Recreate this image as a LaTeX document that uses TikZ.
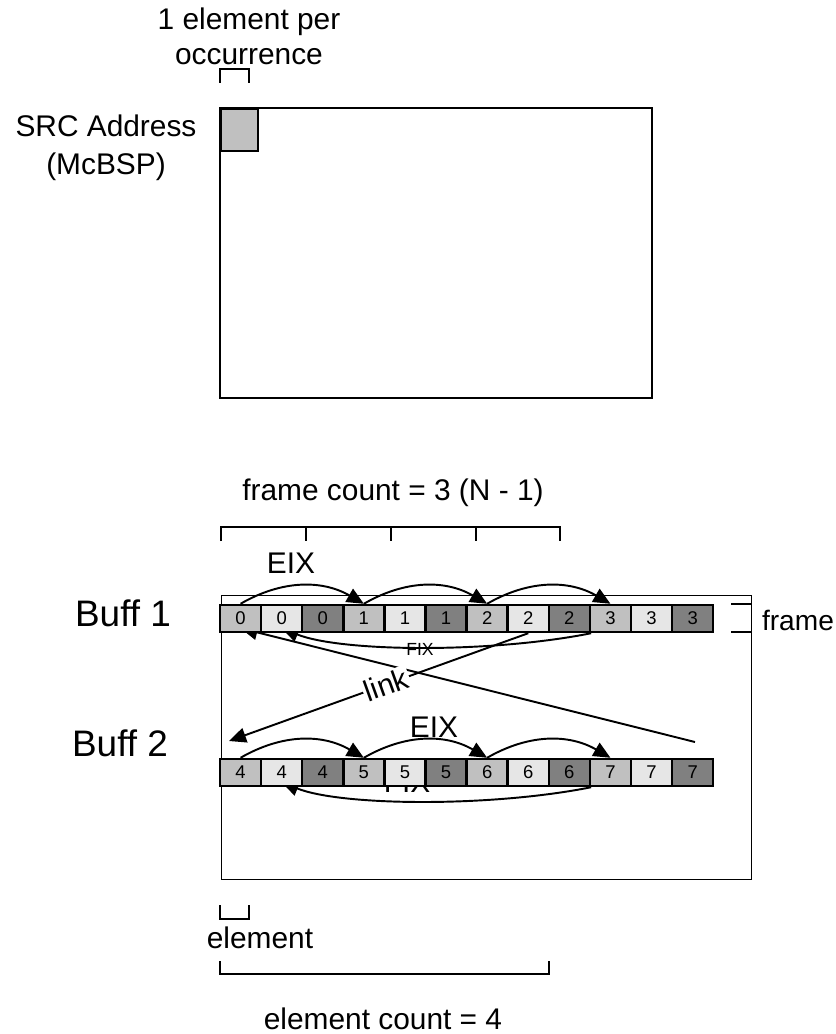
\documentclass[tikz,border=0pt]{standalone}
\usepackage{fontspec}
\setmainfont{Liberation Sans}
\usetikzlibrary{arrows.meta, backgrounds}
\definecolor{shade0}{HTML}{C0C0C0}
\definecolor{shade1}{HTML}{E6E6E6}
\definecolor{shade2}{HTML}{808080}

\begin{document}
\begin{tikzpicture}[
    x=0.02cm, y=-0.02cm,
    line width=1.2pt,
    >={Triangle[length=0.34cm, width=0.3cm]},
    txt/.style={font=\fontsize{17}{20}\selectfont, align=center, inner sep=0pt},
    buff/.style={font=\fontsize{21}{25}\selectfont, inner sep=0pt},
    cell/.style={draw, line width=1.4pt, minimum width=0.822cm, minimum height=0.54cm, inner sep=0pt, font=\fontsize{10.5}{12}\selectfont},
    fixlbl/.style={font=\fontsize{10}{12}\selectfont, inner sep=0pt},
    linklbl/.style={font=\fontsize{17}{20}\selectfont, fill=white, inner sep=1pt, sloped},
    arr/.style={->, line width=1.1pt},
    brk/.style={line width=1.1pt}
]
\useasboundingbox (0,0) rectangle (835,1034);

% source buffer
\node[draw, fill=shade0, anchor=north west, minimum width=0.74cm, minimum height=0.84cm, inner sep=0pt] (srcbox) at (220,108) {};
\draw (220,108) rectangle (652,398);
\node[txt] (occ) at (249,36) {1 element per\\occurrence};
\draw[brk] (220,83) -- (220,69) -- (249,69) -- (249,83);
\node[txt, font=\fontsize{17}{21.5}\selectfont] (src) at (106,148) {SRC Address\\(McBSP)};

% frame count
\node[txt] (fc) at (393,493) {frame count = 3 (N - 1)};
\draw[brk] (221,541) -- (221,527) -- (560,527) -- (560,541);
\foreach \x in {306,391,476}
    \draw[brk] (\x,527) -- (\x,541);

\node[buff] (b1) at (123,613) {Buff 1};
\node[buff] (b2) at (120,743) {Buff 2};

% the two buffers
\foreach \i in {0,...,11} {
    \pgfmathtruncatemacro{\v}{div(\i,3)}
    \pgfmathtruncatemacro{\k}{mod(\i,3)}
    \pgfmathtruncatemacro{\w}{\v+4}
    \node[cell, fill=shade\k] (c\i) at (240.55+41.1*\i, 618.5) {\v};
    \node[cell, fill=shade\k] (d\i) at (240.55+41.1*\i, 772.5) {\w};
}

\draw[brk] (731,604) -- (751,604) (731,632) -- (751,632);
\node[txt, anchor=west, font=\fontsize{16}{19}\selectfont] (frm) at (761,620) {frame};

\begin{scope}[on background layer]
\draw (221,595) rectangle (751,879);

% element index
\draw[arr] (c0.north) to[bend left=30] (c3.north);
\draw[arr] (c3.north) to[bend left=30] (c6.north);
\draw[arr] (c6.north) to[bend left=30] (c9.north);
\draw[arr] (d0.north) to[bend left=30] (d3.north);
\draw[arr] (d3.north) to[bend left=30] (d6.north);
\draw[arr] (d6.north) to[bend left=30] (d9.north);
\node[txt] (eix1) at (291,563) {EIX};
\node[txt] (eix2) at (434,727) {EIX};

% frame index
\draw[arr] (c8.south east) .. controls +(-100,20) and +(60,24) .. ([yshift=0.1cm]c1.south);
\node[fixlbl] (fix1) at (420,649) {FIX};
\draw[arr] (d8.south east) .. controls +(-100,20) and +(60,24) .. ([yshift=0.1cm]d1.south);
\node[txt, anchor=base] (fix2) at (407,792) {FIX};

% link
\coordinate (lkin) at (229,741);
\coordinate (lkout) at (695,742);
\draw[arr] (lkout) -- ([yshift=0.1cm]c0.south);
\draw[arr] (c7.south) -- node[linklbl, pos=0.475] {link} (lkin);
\end{scope}

% element counts
\draw[brk] (220,905) -- (220,919) -- (249,919) -- (249,905);
\node[txt] (el) at (260,938) {element};
\draw[brk] (220,961) -- (220,974) -- (549,974) -- (549,961);
\node[txt] (ec) at (383,1019) {element count = 4};
\end{tikzpicture}
\end{document}
